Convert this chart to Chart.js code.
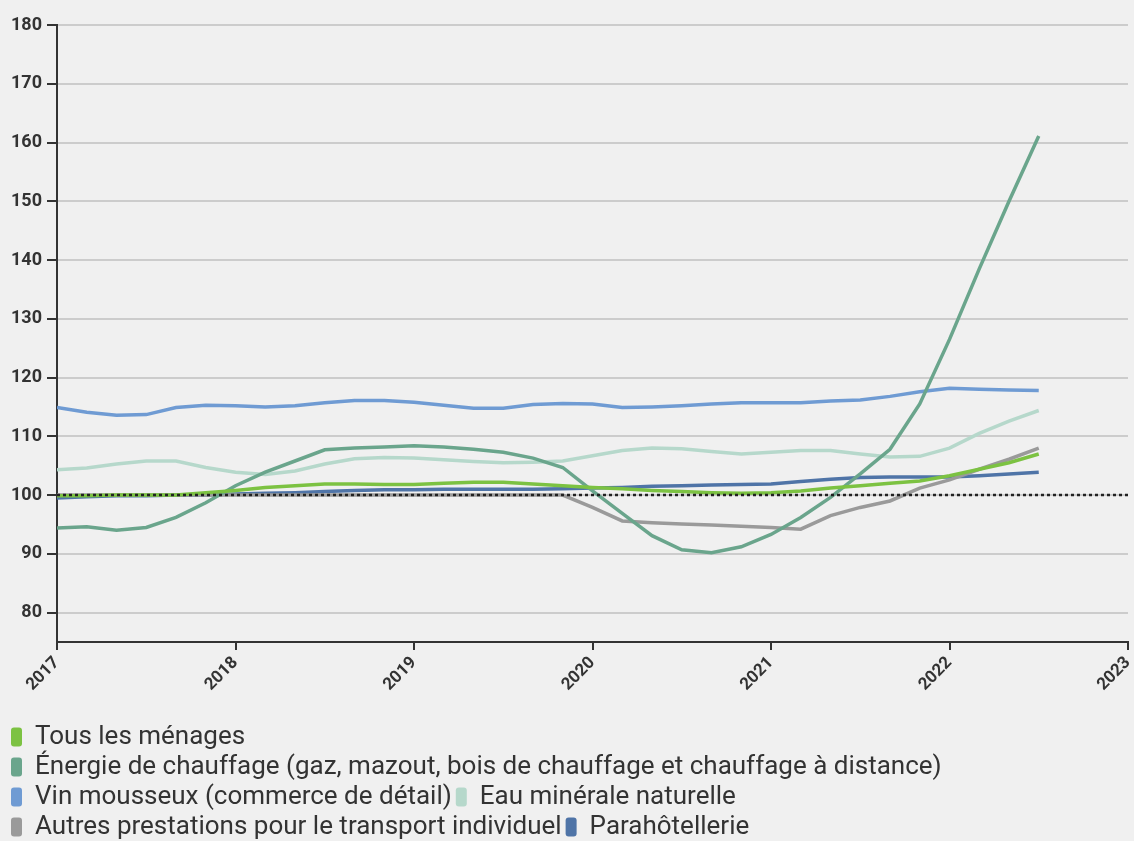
<!DOCTYPE html>
<html>
<head>
<meta charset="utf-8">
<script src="https://cdn.jsdelivr.net/npm/chart.js@4"></script>
<style>
  body { margin: 0; background: #f0f0f0; }
  #cont { width: 1134px; height: 841px; }
</style>
</head>
<body>
<div id="cont"><canvas id="grafica"></canvas></div>
<script>
// dates (tous les 2 mois)
const dates = ["2017-01", "2017-03", "2017-05", "2017-07", "2017-09", "2017-11",
    "2018-01", "2018-03", "2018-05", "2018-07", "2018-09", "2018-11",
    "2019-01", "2019-03", "2019-05", "2019-07", "2019-09", "2019-11",
    "2020-01", "2020-03", "2020-05", "2020-07", "2020-09", "2020-11",
    "2021-01", "2021-03", "2021-05", "2021-07", "2021-09", "2021-11",
    "2022-01", "2022-03", "2022-05", "2022-07"];

const tous = [99.9, 99.9, 100.0, 100.0, 100.0, 100.4, 100.8, 101.3, 101.6, 101.9, 101.9, 101.8,
    101.8, 102.0, 102.2, 102.2, 101.9, 101.6, 101.3, 101.1, 100.8, 100.6, 100.4, 100.3,
    100.4, 100.7, 101.2, 101.6, 102.0, 102.4, 103.3, 104.4, 105.5, 107.0];
const energie = [94.4, 94.6, 94.0, 94.5, 96.2, 98.7, 101.6, 103.9, 105.8, 107.7, 108.0, 108.2,
    108.4, 108.2, 107.8, 107.3, 106.3, 104.7, 100.7, 96.9, 93.1, 90.7, 90.2, 91.2,
    93.3, 96.2, 99.6, 103.6, 107.8, 115.5, 126.5, 138.5, 150.0, 161.1];
const vin = [114.9, 114.1, 113.6, 113.7, 114.9, 115.3, 115.2, 115.0, 115.2, 115.7, 116.1, 116.1,
    115.8, 115.3, 114.8, 114.8, 115.4, 115.6, 115.5, 114.9, 115.0, 115.2, 115.5, 115.7,
    115.7, 115.7, 116.0, 116.2, 116.8, 117.6, 118.2, 118.0, 117.9, 117.8];
const eau = [104.3, 104.6, 105.3, 105.8, 105.8, 104.7, 103.9, 103.5, 104.1, 105.3, 106.2, 106.4,
    106.3, 106.0, 105.7, 105.5, 105.6, 105.8, 106.7, 107.6, 108.0, 107.9, 107.4, 107.0,
    107.3, 107.6, 107.6, 107.0, 106.5, 106.6, 108.0, 110.5, 112.6, 114.4];
const autres = [100.0, 100.0, 100.0, 100.0, 100.0, 100.0, 100.0, 100.0, 100.0, 100.0, 100.0, 100.0,
    100.0, 100.0, 100.0, 100.0, 100.0, 100.0, 97.9, 95.6, 95.3, 95.1, 94.9, 94.7,
    94.5, 94.2, 96.5, 97.9, 99.0, 101.2, 102.6, 104.4, 106.1, 108.0];
const para = [99.5, 99.7, 99.9, 99.9, 100.0, 100.0, 100.2, 100.3, 100.4, 100.6, 100.8, 100.9,
    100.9, 101.0, 101.0, 101.0, 101.0, 101.1, 101.2, 101.3, 101.5, 101.6, 101.7, 101.8,
    101.9, 102.3, 102.7, 103.0, 103.1, 103.1, 103.1, 103.3, 103.6, 103.9];

const anneeMin = 2017;
const anneeMax = 2023;
const base = 100;

const series = [
    { label: "Tous les ménages", data: tous, color: "#7cc242" },
    { label: "Énergie de chauffage (gaz, mazout, bois de chauffage et chauffage à distance)", data: energie, color: "#6aa58c" },
    { label: "Vin mousseux (commerce de détail)", data: vin, color: "#6f9bd3" },
    { label: "Eau minérale naturelle", data: eau, color: "#b6d8cb" },
    { label: "Autres prestations pour le transport individuel", data: autres, color: "#9a9a9a" },
    { label: "Parahôtellerie", data: para, color: "#4f74a7" }
];

function enAnnee(d) {
    let p = d.split("-");
    return parseInt(p[0]) + (parseInt(p[1]) - 1) / 12;
}

let datasets = [{
    label: "base",
    data: [{ x: anneeMin, y: base }, { x: anneeMax, y: base }],
    borderColor: "#222",
    borderWidth: 2.5,
    borderDash: [3, 3],
    pointRadius: 0
}];

for (let s of series) {
    datasets.push({
        label: s.label,
        data: dates.map((d, i) => ({ x: enAnnee(d), y: s.data[i] })),
        borderColor: s.color,
        backgroundColor: s.color,
        borderWidth: 3.5,
        pointRadius: 0,
        tension: 0
    });
}

const graph = document.getElementById("grafica");
let myChart = new Chart(graph, {
    type: "line",
    data: { datasets: datasets },
    options: {
        responsive: true,
        maintainAspectRatio: false,
        animation: false,
        layout: { padding: { top: 25, right: 6, left: 7, bottom: -9 } },
        scales: {
            x: {
                type: "linear",
                min: anneeMin,
                max: anneeMax,
                grid: { drawOnChartArea: false, tickColor: "#333", tickLength: 8, lineWidth: 2 },
                border: { color: "#333", width: 2 },
                ticks: {
                    stepSize: 1,
                    maxRotation: 45,
                    minRotation: 45,
                    color: "#333",
                    font: { family: "Roboto", size: 17, weight: "bold" },
                    callback: v => String(v)
                },
                afterFit: function (scale) {
                    scale.height = 78;
                    scale.paddingLeft = 0;
                    scale.paddingRight = 0;
                }
            },
            y: {
                min: 75,
                max: 180,
                grid: { color: "#cccccc", lineWidth: 2, tickColor: "#333", tickLength: 10 },
                border: { color: "#333", width: 2 },
                ticks: {
                    stepSize: 10,
                    padding: 5,
                    color: "#333",
                    font: { family: "Roboto", size: 18, weight: "bold" }
                },
                afterBuildTicks: function (scale) {
                    scale.ticks = scale.ticks.filter(t => t.value % 10 === 0);
                },
                afterFit: function (scale) {
                    scale.width = 50;
                }
            }
        },
        plugins: {
            tooltip: { enabled: false },
            legend: {
                position: "bottom",
                align: "start",
                labels: {
                    color: "#333",
                    font: { family: "Roboto", size: 26 },
                    boxWidth: 11,
                    boxHeight: 19,
                    padding: 4,
                    useBorderRadius: true,
                    borderRadius: 3,
                    generateLabels: function (chart) {
                        let items = Chart.defaults.plugins.legend.labels.generateLabels(chart);
                        return items.filter(it => it.text !== "base").map(it => {
                            it.lineWidth = 0;
                            return it;
                        });
                    }
                }
            }
        }
    }
});
console.log(myChart);
</script>
</body>
</html>
